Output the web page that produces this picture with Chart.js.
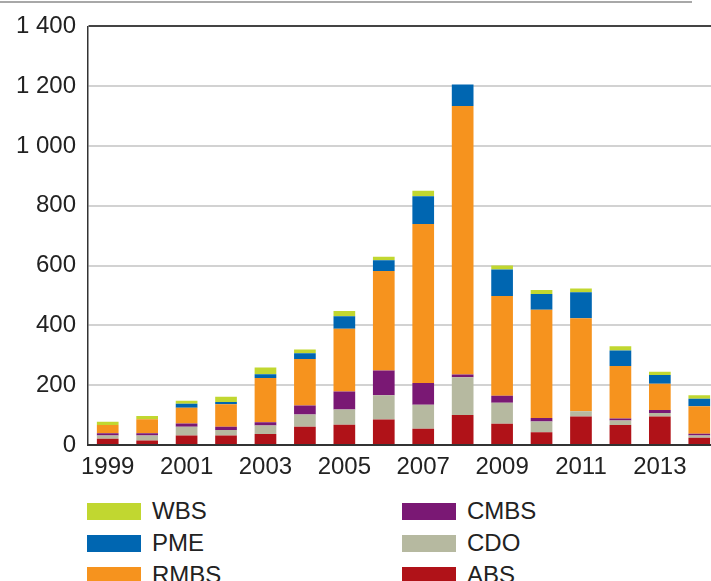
<!DOCTYPE html>
<html lang="fr">
<head>
<meta charset="utf-8">
<title>Titrisations par type</title>
<script src="https://cdn.jsdelivr.net/npm/chart.js@4.4.1/dist/chart.umd.min.js"></script>
<style>
    html, body {
        margin: 0;
        padding: 0;
        width: 711px;
        height: 581px;
        overflow: hidden;
        background: #fff;
        font-family: "Liberation Sans", Arial, sans-serif;
    }
    .top-rule {
        position: absolute;
        left: 0;
        top: 1px;
        width: 692px;
        height: 2px;
        background: #a8a8a8;
    }
    #chart-box {
        position: absolute;
        left: 0;
        top: 0;
    }
    .legend {
        position: absolute;
        left: 87px;
        top: 495px;
        display: grid;
        grid-auto-flow: column;
        grid-template-rows: repeat(3, 32px);
        grid-template-columns: 315px 315px;
        color: #222;
        font-size: 24px;
    }
    .legend-item {
        display: flex;
        align-items: center;
    }
    .legend-item .swatch {
        width: 54px;
        height: 17px;
        margin-right: 11px;
    }
</style>
</head>
<body>
<div class="top-rule"></div>
<div id="chart-box">
    <canvas id="titresChart" width="719" height="485"></canvas>
</div>
<div class="legend" id="legend"></div>

<script>
// Années
const annees = ['1999', '2000', '2001', '2002', '2003', '2004', '2005', '2006',
                '2007', '2008', '2009', '2010', '2011', '2012', '2013', '2014'];

// Séries (du bas vers le haut de la pile)
const abs  = [21, 15, 32, 32, 37, 61, 68, 85, 54, 100, 71, 43, 95, 67, 95, 24];
const cdo  = [11, 17, 29, 18, 28, 41, 51, 81, 81, 127, 70, 36, 18, 15, 12, 8];
const cmbs = [7, 7, 11, 11, 11, 30, 60, 83, 72, 9, 24, 11, 0, 7, 10, 6];
const rmbs = [28, 47, 53, 75, 148, 156, 210, 333, 532, 898, 333, 362, 311, 175, 88, 92];
const pme  = [0, 0, 13, 8, 13, 19, 42, 36, 93, 72, 89, 53, 87, 52, 29, 25];
const wbs  = [11, 11, 10, 17, 22, 12, 17, 12, 18, 0, 13, 13, 12, 14, 11, 11];

// Graduations de l'axe vertical
const yMin = 0;
const yMax = 1400;
const yPas = 200;

const couleurs = {
    ABS: '#b01218',
    CDO: '#b6b9a0',
    CMBS: '#7a1874',
    RMBS: '#f6931e',
    PME: '#0066b1',
    WBS: '#c1d730'
};

function serie(nom, valeurs) {
    return {
        label: nom,
        data: valeurs,
        backgroundColor: couleurs[nom],
        borderWidth: 0,
        barPercentage: 0.55,
        categoryPercentage: 1.0
    };
}

// Format "1 400" avec espace des milliers
function formatMilliers(v) {
    return String(v).replace(/\B(?=(\d{3})+(?!\d))/g, ' ');
}

const police = { family: '"Liberation Sans", Arial, sans-serif', size: 24 };

const ctx = document.getElementById('titresChart').getContext('2d');
const chart = new Chart(ctx, {
    type: 'bar',
    data: {
        labels: annees,
        datasets: [
            serie('ABS', abs),
            serie('CDO', cdo),
            serie('CMBS', cmbs),
            serie('RMBS', rmbs),
            serie('PME', pme),
            serie('WBS', wbs)
        ]
    },
    options: {
        responsive: false,
        animation: false,
        devicePixelRatio: 1,
        layout: {
            padding: { top: 24, right: 0, bottom: 0, left: 0 }
        },
        plugins: {
            legend: { display: false },
            tooltip: { enabled: false },
            title: { display: false }
        },
        scales: {
            x: {
                stacked: true,
                grid: { display: false, drawTicks: false },
                border: { display: true, color: '#333', width: 2 },
                ticks: {
                    autoSkip: false,
                    maxRotation: 0,
                    padding: 8,
                    color: '#222',
                    font: police,
                    callback: function(val, index) {
                        return index % 2 === 0 ? this.getLabelForValue(val) : '';
                    }
                },
                afterFit: function(scale) {
                    scale.height = 40;
                }
            },
            y: {
                stacked: true,
                min: yMin,
                max: yMax,
                border: { display: true, color: '#333', width: 1.5 },
                grid: {
                    drawTicks: false,
                    lineWidth: 2,
                    color: function(c) {
                        return c.tick && c.tick.value === yMax ? '#444' : '#d2d2d2';
                    }
                },
                ticks: {
                    stepSize: yPas,
                    padding: 12,
                    color: '#222',
                    font: police,
                    callback: function(v) {
                        return formatMilliers(v);
                    }
                },
                afterFit: function(scale) {
                    scale.width = 88;
                }
            }
        }
    }
});

// Légende HTML à deux colonnes, construite à partir des séries du graphique
const legende = document.getElementById('legend');
chart.data.datasets.slice().reverse().forEach(ds => {
    const itemHTML = `
        <div class="legend-item">
            <span class="swatch" style="background:${ds.backgroundColor}"></span>
            <span>${ds.label}</span>
        </div>
    `;
    legende.insertAdjacentHTML('beforeend', itemHTML);
});
</script>
</body>
</html>
